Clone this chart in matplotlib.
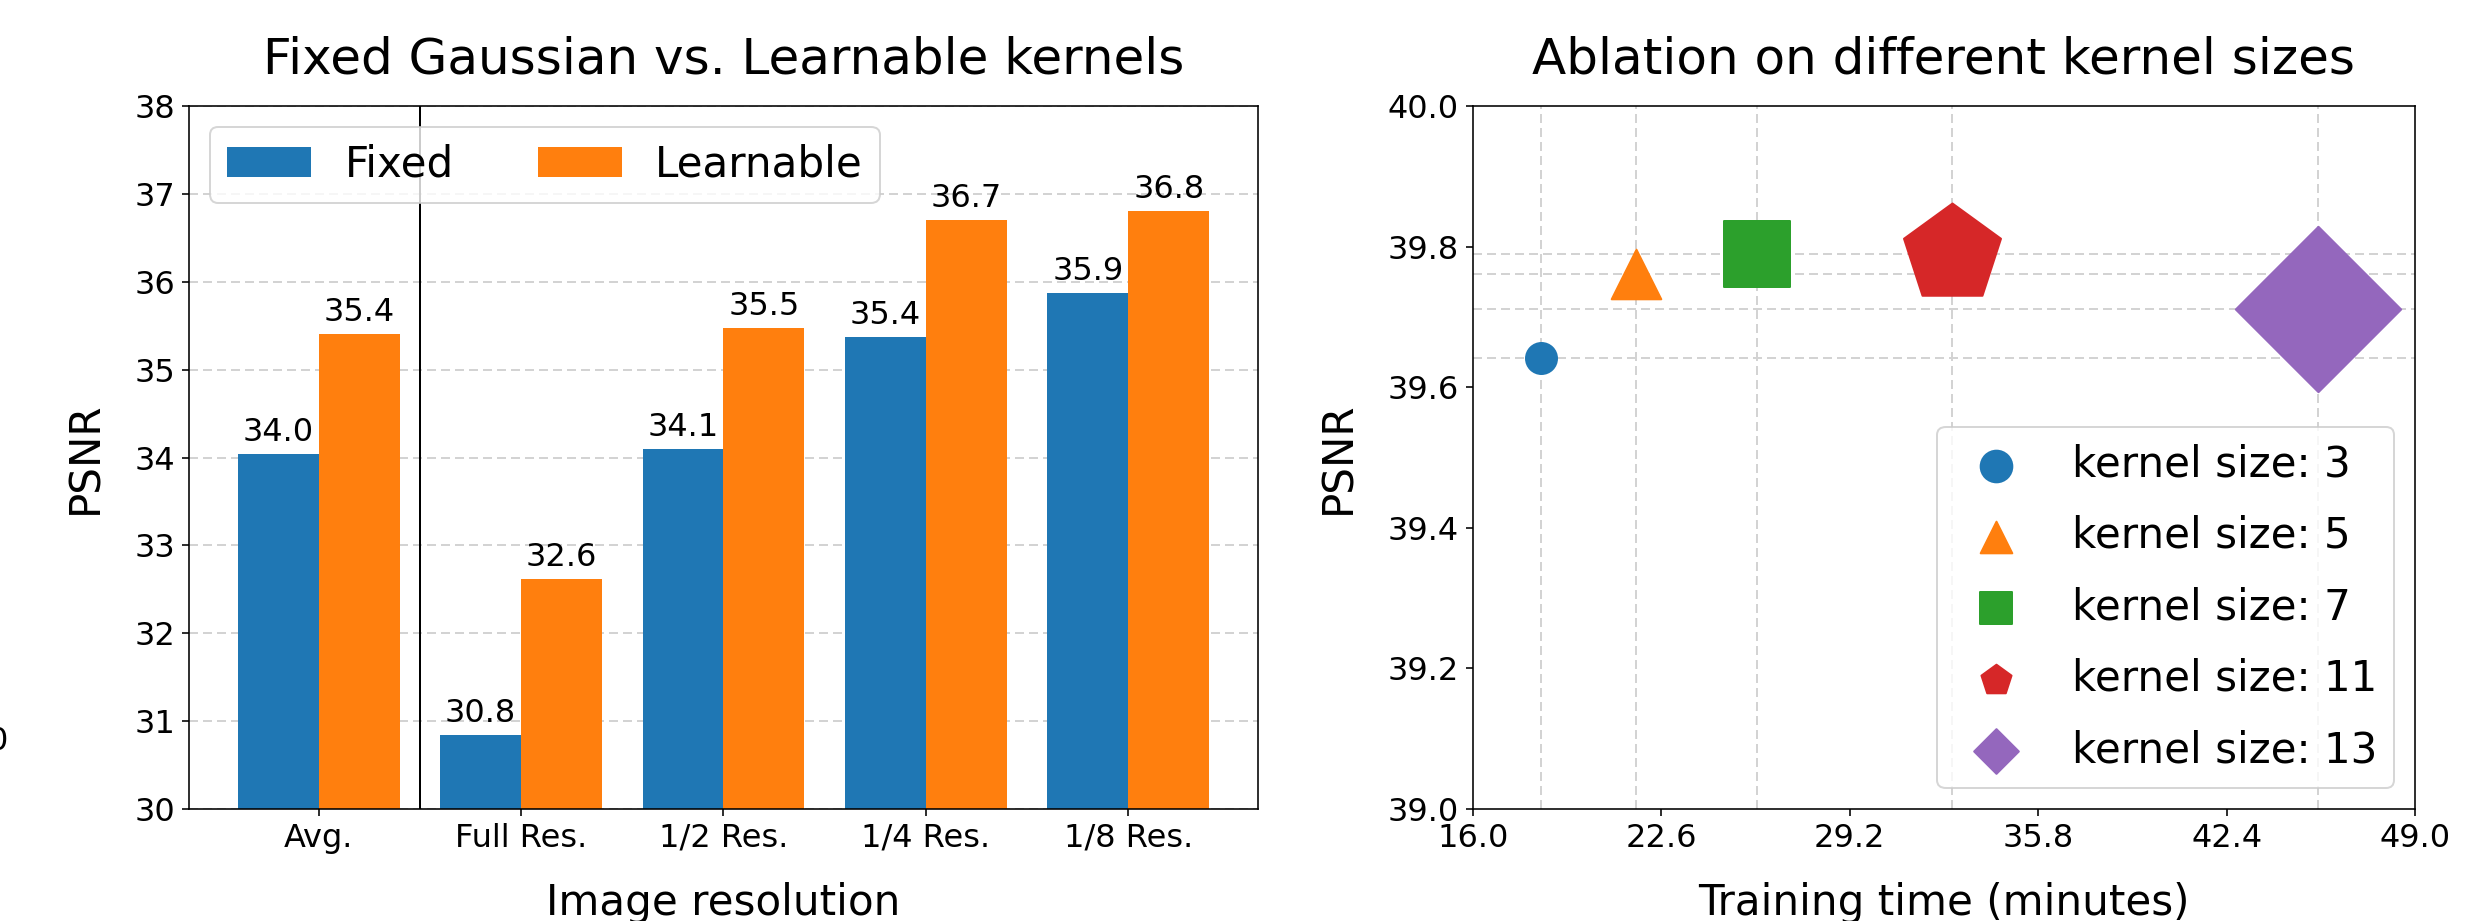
import matplotlib
matplotlib.use("Agg")
import matplotlib.pyplot as plt
import numpy as np
from matplotlib.ticker import FormatStrFormatter

W, H, DPI = 2469, 921, 144

# ── left panel: fixed vs learnable kernels ───────────────────────────────
resolutions = ["Avg.", "Full Res.", "1/2 Res.", "1/4 Res.", "1/8 Res."]
psnr_fixed = [34.04, 30.84, 34.10, 35.37, 35.87]
psnr_learnable = [35.40, 32.62, 35.47, 36.70, 36.81]

# ── right panel: kernel size ablation ────────────────────────────────────
kernel_sizes = [3, 5, 7, 11, 13]
train_minutes = [18.37, 21.70, 25.95, 32.77, 45.60]
kernel_psnr = [39.642, 39.761, 39.790, 39.790, 39.711]

markers = ["o", "^", "s", "p", "D"]
marker_area = [240, 615, 1120, 2600, 3420]

grid_kw = dict(color="lightgray", linestyle=(0, (4.5, 2.5)), linewidth=1.0)

fig = plt.figure(figsize=(W / DPI, H / DPI), dpi=DPI)

# ── left ─────────────────────────────────────────────────────────────────
ax1 = fig.add_axes([189 / W, 1 - 809 / H, 1069 / W, 703 / H])
x = np.arange(len(resolutions))
width = 0.4
b1 = ax1.bar(x - width / 2, psnr_fixed, width, label="Fixed", color="tab:blue")
b2 = ax1.bar(x + width / 2, psnr_learnable, width, label="Learnable", color="tab:orange")
ax1.bar_label(b1, fmt="%.1f", padding=3, fontsize=16)
ax1.bar_label(b2, fmt="%.1f", padding=3, fontsize=16)
ax1.axvline(0.5, color="black", linewidth=1.0)
ax1.set_ylim(30, 38)
ax1.set_xticks(x, resolutions)
ax1.yaxis.grid(True, **grid_kw)
ax1.set_axisbelow(True)
ax1.tick_params(labelsize=16)
ax1.legend(loc="upper left", ncol=2, fontsize=21)
ax1.set_title("Fixed Gaussian vs. Learnable kernels", fontsize=25, pad=16)
ax1.set_xlabel("Image resolution", fontsize=21, labelpad=14)
ax1.set_ylabel("PSNR", fontsize=21, labelpad=14)

# ── right ────────────────────────────────────────────────────────────────
ax2 = fig.add_axes([1473 / W, 1 - 809 / H, 942 / W, 703 / H])
for k, t, p, m, s in zip(kernel_sizes, train_minutes, kernel_psnr, markers, marker_area):
    ax2.axvline(t, zorder=1, **grid_kw)
    ax2.axhline(p, zorder=1, **grid_kw)
    ax2.scatter(t, p, marker=m, s=s, label=f"kernel size: {k}", zorder=3)
ax2.set_xlim(16, 49)
ax2.set_xticks(np.linspace(16, 49, 6))
ax2.set_ylim(39, 40)
ax2.set_yticks(np.linspace(39, 40, 6))
ax2.xaxis.set_major_formatter(FormatStrFormatter("%.1f"))
ax2.yaxis.set_major_formatter(FormatStrFormatter("%.1f"))
ax2.tick_params(labelsize=16)
leg = ax2.legend(loc="lower right", fontsize=21, labelspacing=0.7)
for h in leg.legend_handles:
    h.set_sizes([250])
ax2.set_title("Ablation on different kernel sizes", fontsize=25, pad=16)
ax2.set_xlabel("Training time (minutes)", fontsize=21, labelpad=14)
ax2.set_ylabel("PSNR", fontsize=21, labelpad=14)

# stray tick label of a neighbouring panel, cut at the left edge
fig.text(8 / W, 1 - 742 / H, "0", ha="right", va="center", fontsize=16)

fig.savefig("out.png", dpi=DPI)
